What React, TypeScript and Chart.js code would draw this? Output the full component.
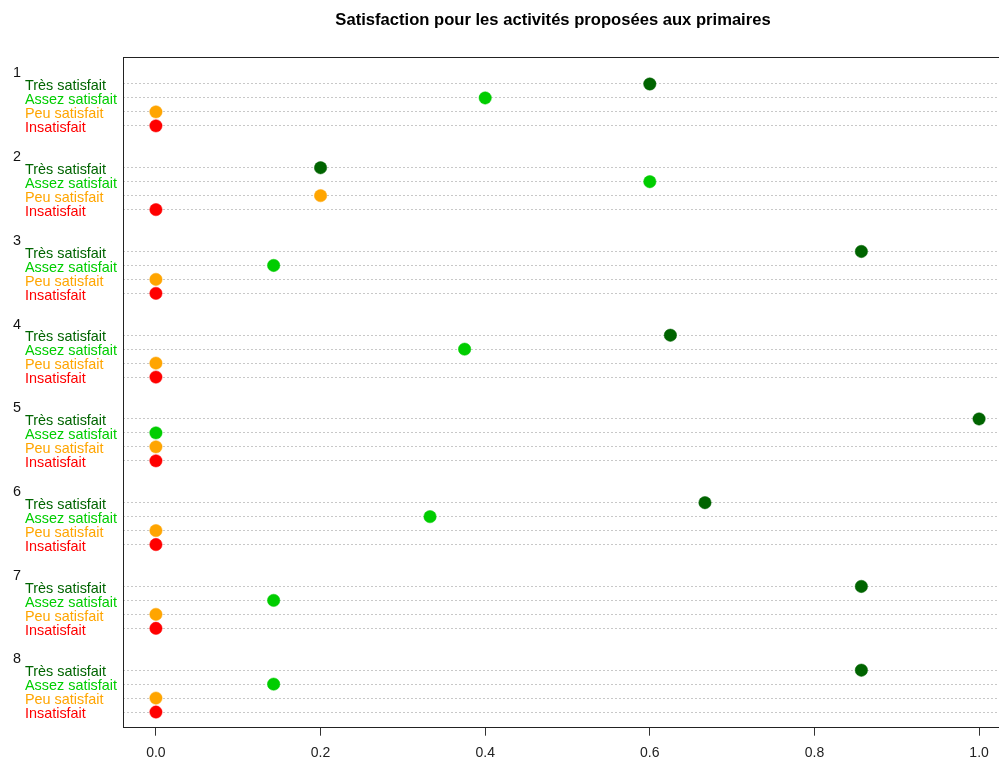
import React, { useEffect, useRef } from "react";
import { Chart, registerables } from "chart.js";

Chart.register(...registerables);

const title = "Satisfaction pour les activités proposées aux primaires";
const groups = ["1", "2", "3", "4", "5", "6", "7", "8"];
const categories = ["Très satisfait", "Assez satisfait", "Peu satisfait", "Insatisfait"];
const categoryColors = ["#006400", "#00CD00", "#FFA500", "#FF0000"];
const tresSatisfait = [0.6, 0.2, 0.857, 0.625, 1.0, 0.667, 0.857, 0.857];
const assezSatisfait = [0.4, 0.6, 0.143, 0.375, 0.0, 0.333, 0.143, 0.143];
const peuSatisfait = [0.0, 0.2, 0.0, 0.0, 0.0, 0.0, 0.0, 0.0];
const insatisfait = [0.0, 0.0, 0.0, 0.0, 0.0, 0.0, 0.0, 0.0];
const xTicks = [0, 0.2, 0.4, 0.6, 0.8, 1.0];

const seriesValues = [tresSatisfait, assezSatisfait, peuSatisfait, insatisfait];
const ROWS_PER_GROUP = 6; // group label row + 4 categories + gap
const rowPos = (g: number, k: number) => g * ROWS_PER_GROUP + k + 1;

const FONT = '"Liberation Sans", Arial, sans-serif';

export default function App() {
  const ref = useRef<HTMLCanvasElement | null>(null);

  useEffect(() => {
    if (!ref.current) return;
    const rowValues: number[] = [];
    groups.forEach((_, g) => categories.forEach((_, k) => rowValues.push(rowPos(g, k))));

    const labelsPlugin = {
      id: "dotLabels",
      afterDatasetsDraw(chart: any) {
        const { ctx, chartArea, scales } = chart;
        const ys = scales.y;
        ctx.save();
        // box
        ctx.strokeStyle = "#222";
        ctx.lineWidth = 1;
        ctx.strokeRect(
          Math.round(chartArea.left) + 0.5,
          Math.round(chartArea.top) + 0.5,
          Math.round(chartArea.right - chartArea.left),
          Math.round(chartArea.bottom - chartArea.top)
        );
        // title
        ctx.fillStyle = "#000";
        ctx.font = "bold 16.6px " + FONT;
        ctx.textAlign = "center";
        ctx.textBaseline = "alphabetic";
        ctx.fillText(title, 553, 25);
        // labels
        ctx.textAlign = "left";
        ctx.font = "14.4px " + FONT;
        groups.forEach((gl, g) => {
          ctx.fillStyle = "#111";
          ctx.fillText(gl, 13, ys.getPixelForValue(rowPos(g, 0)) - 6.7);
          categories.forEach((c, k) => {
            ctx.fillStyle = categoryColors[k];
            ctx.fillText(c, 25, ys.getPixelForValue(rowPos(g, k)) + 6.2);
          });
        });
        ctx.restore();
      },
    };

    const chart = new Chart(ref.current, {
      type: "scatter",
      data: {
        datasets: categories.map((c, k) => ({
          label: c,
          data: groups.map((_, g) => ({ x: seriesValues[k][g], y: rowPos(g, k) })),
          backgroundColor: categoryColors[k],
          borderColor: categoryColors[k],
          pointRadius: 6.2,
          pointBorderWidth: 0.5,
          pointHoverRadius: 6.2,
        })),
      },
      options: {
        animation: false,
        responsive: false,
        devicePixelRatio: 1,
        layout: { padding: { top: 56.7, left: 0, right: 28, bottom: 0 } },
        plugins: {
          legend: { display: false },
          title: { display: false },
          tooltip: { enabled: false },
        },
        scales: {
          x: {
            type: "linear",
            min: -0.04,
            max: 1.04,
            afterBuildTicks: (scale: any) => {
              scale.ticks = xTicks.map((v) => ({ value: v }));
            },
            afterFit: (scale: any) => {
              scale.height = 33.3;
            },
            grid: {
              drawOnChartArea: false,
              drawTicks: true,
              tickLength: 9,
              color: "#333",
              tickColor: "#333",
            },
            border: { display: false },
            ticks: {
              padding: 9,
              color: "#222",
              font: { size: 14, family: FONT },
              maxRotation: 0,
              callback: (v: any) => Number(v).toFixed(1),
            },
          },
          y: {
            type: "linear",
            reverse: true,
            min: -0.956,
            max: 47.05,
            afterBuildTicks: (scale: any) => {
              scale.ticks = rowValues.map((v) => ({ value: v }));
            },
            afterFit: (scale: any) => {
              scale.width = 123;
            },
            grid: {
              display: true,
              drawOnChartArea: true,
              drawTicks: false,
              color: "#c8c8c8",
              lineWidth: 1,
            },
            border: { display: false, dash: [2, 2] },
            ticks: { display: false },
          },
        },
      },
      plugins: [labelsPlugin],
    } as any);

    return () => chart.destroy();
  }, []);

  return (
    <div
      style={{
        position: "fixed",
        left: 0,
        top: 0,
        width: 999,
        height: 760,
        overflow: "hidden",
        background: "#fff",
      }}
    >
      <canvas ref={ref} width={1040} height={760} style={{ width: 1040, height: 760, display: "block" }} />
    </div>
  );
}
